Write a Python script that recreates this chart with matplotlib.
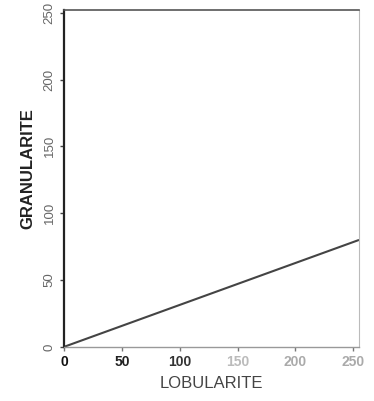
import matplotlib
matplotlib.use("Agg")
import matplotlib.pyplot as plt

plt.rcParams["font.family"] = ["Liberation Sans", "DejaVu Sans"]

# line from origin: (lobularite, granularite)
lobularite = [0, 255]
granularite = [0, 80]

x_ticks = [0, 50, 100, 150, 200, 250]
y_ticks = [0, 50, 100, 150, 200, 250]

fig = plt.figure(figsize=(3.74, 4.01), dpi=100)
ax = fig.add_axes([0.171, 0.135, 0.789, 0.840])

ax.plot(lobularite, granularite, color="#444444", linewidth=1.5, solid_capstyle="butt")

ax.set_xlim(0, 255)
ax.set_ylim(0, 252)
ax.set_xticks(x_ticks)
ax.set_yticks(y_ticks)
ax.tick_params(direction="out", length=3, width=1, pad=3)
ax.tick_params(axis="x", colors="#777777", labelsize=10)
ax.tick_params(axis="y", colors="#444444", labelsize=9.5)
for label in ax.get_yticklabels():
    label.set_rotation(90)
    label.set_va("center")
    label.set_color("#666666")

# the scanned x labels fade from left to right
fade = ["#111111", "#222222", "#333333", "#bbbbbb", "#aaaaaa", "#aaaaaa"]
for label, c in zip(ax.get_xticklabels(), fade):
    label.set_color(c)
    label.set_fontweight("bold")

ax.spines["left"].set_color("#222222")
ax.spines["left"].set_linewidth(1.6)
ax.spines["top"].set_color("#555555")
ax.spines["top"].set_linewidth(1.2)
ax.spines["right"].set_color("#bbbbbb")
ax.spines["right"].set_linewidth(0.8)
ax.spines["bottom"].set_color("#999999")
ax.spines["bottom"].set_linewidth(1.0)

ax.set_ylabel("GRANULARITE", fontsize=12, fontweight="bold", color="#222222")
ax.yaxis.set_label_coords(-0.097, 0.53)
ax.set_xlabel("LOBULARITE", fontsize=12, color="#444444", labelpad=5)

fig.savefig("out.png", dpi=100)
